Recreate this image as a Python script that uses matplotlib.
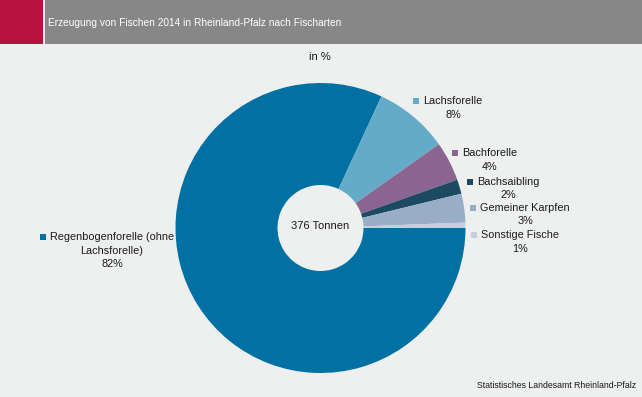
import matplotlib
matplotlib.use('Agg')
import matplotlib.pyplot as plt
from matplotlib.patches import Rectangle

plt.rcParams['font.family'] = ['Liberation Sans', 'DejaVu Sans']

# data (share in %)
species = ['Regenbogenforelle (ohne\nLachsforelle)', 'Lachsforelle', 'Bachforelle',
           'Bachsaibling', 'Gemeiner Karpfen', 'Sonstige Fische']
shares = [81.9, 8.3, 4.4, 1.6, 3.2, 0.6]
colors = ['#0071a2', '#64abca', '#8b6590', '#1b4a62', '#98aec6', '#c2cfdc']
total_label = '376 Tonnen'
title = 'Erzeugung von Fischen 2014 in Rheinland-Pfalz nach Fischarten'
source = 'Statistisches Landesamt Rheinland-Pfalz'

W, H = 642, 397
bg = '#eef0ef'

fig = plt.figure(figsize=(W / 100, H / 100), dpi=100, facecolor=bg)
ax = fig.add_axes([0, 0, 1, 1])
ax.set_facecolor(bg)


def py(y):
    # pixel row from top -> data y
    return H - y


# donut
cx, cy, r_out, r_in = 320.5, py(228), 145, 43
ax.pie(shares, colors=colors, startangle=0, counterclock=False, radius=r_out,
       center=(cx, cy), wedgeprops=dict(width=r_out - r_in, linewidth=0))
ax.set_xlim(0, W)
ax.set_ylim(0, H)
ax.set_aspect('auto')
ax.axis('off')

# header
ax.add_patch(Rectangle((0, py(44)), 43, 44, color='#b5123e', lw=0))
ax.add_patch(Rectangle((45, py(44)), W - 45, 44, color='#878787', lw=0))
ax.text(48, py(23), title, color='white', fontsize=7.3, va='center', ha='left')
ax.text(320, py(57), 'in %', fontsize=8, ha='center', va='center', color='#1a1a1a')

ax.text(cx, py(226), total_label, fontsize=8, ha='center', va='center', color='#1a1a1a')

# label layout: centre x, y of first line (pixels from top)
label_pos = [(112, 237), (453, 101), (490, 153), (508, 182), (525, 208), (520, 235)]
line_h = 13.5

fig.canvas.draw()
renderer = fig.canvas.get_renderer()
inv = ax.transData.inverted()
for name, val, col, (lx, ly) in zip(species, shares, colors, label_pos):
    lines = name.split('\n') + ['%d%%' % round(val)]
    first = None
    for i, line in enumerate(lines):
        t = ax.text(lx, py(ly + i * line_h), line, fontsize=7.8, ha='center', va='center',
                    color='#1a1a1a')
        if i == 0:
            first = t
    bb = first.get_window_extent(renderer)
    x0 = inv.transform((bb.x0, bb.y0))[0]
    ax.add_patch(Rectangle((x0 - 10, py(ly) - 3), 6, 6, color=col, lw=0))

ax.text(636, py(386), source, fontsize=6.3, ha='right', va='center', color='#1a1a1a')

fig.savefig('out.png', dpi=100, facecolor=bg)
